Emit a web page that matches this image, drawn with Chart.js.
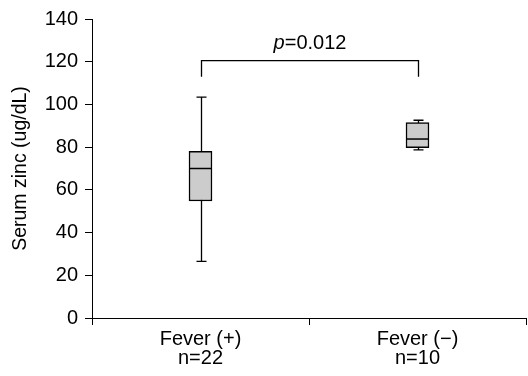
<!DOCTYPE html>
<html>
<head>
<meta charset="utf-8">
<script src="https://cdn.jsdelivr.net/npm/chart.js@4"></script>
<style>
  html, body { margin: 0; padding: 0; background: #fff; }
  #wrap { width: 528px; height: 376px; }
</style>
</head>
<body>
<div id="wrap"><canvas id="chart"></canvas></div>
<script>
// --- Data ---
const categories = [["Fever (+)", "n=22"], ["Fever (\u2212)", "n=10"]];
const whiskerLow = [26.5, 78.7];
const q1 = [54.8, 79.8];
const median = [70, 83.8];
const q3 = [78, 91.5];
const whiskerHigh = [103.4, 92.6];
const yMin = 0;
const yMax = 140;
const yStep = 20;
const yTitle = "Serum zinc (ug/dL)";
// significance bracket between the two groups
const bracketTop = 120.5;
const bracketFoot = 113;
const pItalic = "p";
const pRest = "=0.012";

const FONT = "'Liberation Sans', Arial, sans-serif";

// whiskers, medians and the p-value bracket, all placed through the chart scales
const boxExtras = {
  id: "boxExtras",
  beforeDatasetsDraw(chart) {
    const { ctx, scales: { x, y } } = chart;
    const cap = 5;
    ctx.save();
    ctx.strokeStyle = "#000";
    ctx.lineWidth = 1.3;
    categories.forEach((c, i) => {
      const cx = Math.round(x.getPixelForValue(i)) + 0.5;
      const lo = y.getPixelForValue(whiskerLow[i]);
      const hi = y.getPixelForValue(whiskerHigh[i]);
      ctx.beginPath();
      ctx.moveTo(cx, lo); ctx.lineTo(cx, hi);
      ctx.moveTo(cx - cap, lo); ctx.lineTo(cx + cap, lo);
      ctx.moveTo(cx - cap, hi); ctx.lineTo(cx + cap, hi);
      ctx.stroke();
    });
    ctx.restore();
  },
  afterDatasetsDraw(chart) {
    const { ctx, scales: { x, y } } = chart;
    const meta = chart.getDatasetMeta(0);
    ctx.save();
    ctx.strokeStyle = "#000";
    ctx.lineWidth = 1.5;
    meta.data.forEach((bar, i) => {
      const half = bar.width / 2;
      const my = y.getPixelForValue(median[i]);
      ctx.beginPath();
      ctx.moveTo(bar.x - half, my); ctx.lineTo(bar.x + half, my);
      ctx.stroke();
    });

    // bracket
    const x0 = Math.round(x.getPixelForValue(0)) + 0.5;
    const x1 = Math.round(x.getPixelForValue(1)) + 0.5;
    const top = y.getPixelForValue(bracketTop);
    const foot = y.getPixelForValue(bracketFoot);
    ctx.lineWidth = 1.3;
    ctx.beginPath();
    ctx.moveTo(x0, foot); ctx.lineTo(x0, top); ctx.lineTo(x1, top); ctx.lineTo(x1, foot);
    ctx.stroke();

    // p label: italic p followed by the value
    ctx.fillStyle = "#000";
    ctx.textBaseline = "alphabetic";
    ctx.textAlign = "left";
    ctx.font = "italic 20px " + FONT;
    const w1 = ctx.measureText(pItalic).width;
    ctx.font = "20px " + FONT;
    const w2 = ctx.measureText(pRest).width;
    const startX = (x0 + x1) / 2 - (w1 + w2) / 2;
    const baseY = top - 12;
    ctx.font = "italic 20px " + FONT;
    ctx.fillText(pItalic, startX, baseY);
    ctx.font = "20px " + FONT;
    ctx.fillText(pRest, startX + w1, baseY);
    ctx.restore();
  }
};

new Chart(document.getElementById("chart"), {
  type: "bar",
  data: {
    labels: categories,
    datasets: [{
      data: q1.map((v, i) => [v, q3[i]]),
      backgroundColor: "#cccccc",
      borderColor: "#000",
      borderWidth: 1.5,
      borderSkipped: false,
      barThickness: 23
    }]
  },
  options: {
    responsive: true,
    maintainAspectRatio: false,
    animation: false,
    layout: { padding: { top: 15, right: 2, left: 0, bottom: 0 } },
    plugins: { legend: { display: false }, tooltip: { enabled: false } },
    scales: {
      x: {
        offset: true,
        grid: { offset: true, drawOnChartArea: false, tickLength: 7, color: "#000", lineWidth: 1 },
        border: { color: "#000", width: 1 },
        ticks: { color: "#000", padding: 5, font: { family: FONT, size: 20, lineHeight: 0.95 } },
        afterFit(scale) { scale.height = 58; }
      },
      y: {
        min: yMin,
        max: yMax,
        ticks: { stepSize: yStep, color: "#000", padding: 7, font: { family: FONT, size: 20 } },
        grid: { drawOnChartArea: false, tickLength: 7, color: "#000", lineWidth: 1 },
        border: { color: "#000", width: 1 },
        title: { display: true, text: yTitle, color: "#000", padding: { top: 9, bottom: 0 }, font: { family: FONT, size: 19.5 } },
        afterFit(scale) { scale.width = 92; }
      }
    }
  },
  plugins: [boxExtras]
});
</script>
</body>
</html>
